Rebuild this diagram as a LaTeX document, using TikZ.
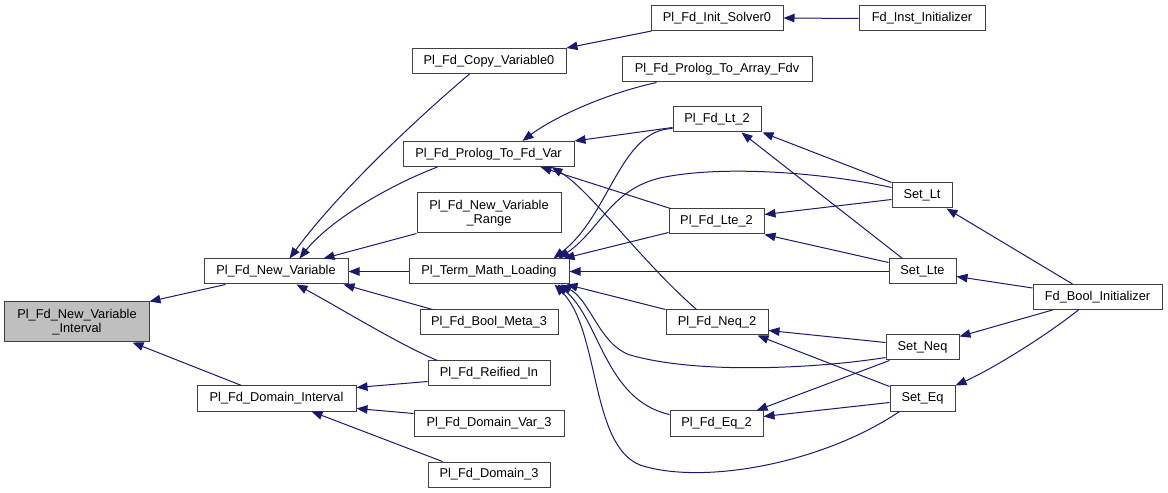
\documentclass[tikz,border=0pt]{standalone}
\usepackage{fontspec}
\setmainfont{Liberation Sans}
\usetikzlibrary{arrows.meta,calc}
\definecolor{edgecol}{HTML}{191970}
\definecolor{boxline}{HTML}{404040}
\definecolor{boxfill}{HTML}{BFBFBF}
\tikzset{
 fn/.style={draw=boxline, line width=1bp, fill=white, rectangle, inner sep=0pt,
   minimum height=25bp, font=\fontsize{12.8bp}{14.5bp}\selectfont, align=center},
 edge/.style={draw=edgecol, line width=1bp, {Triangle[length=11bp,width=8.5bp]}-},
}
\begin{document}
\begin{tikzpicture}[x=1bp,y=-1bp]
\useasboundingbox (0,0) rectangle (1168,493);
% column 1
\node[fn, minimum width=144bp, minimum height=40bp, fill=boxfill] (NVI) at (77,322) {Pl\_Fd\_New\_Variable\\\_Interval};
% column 2
\node[fn, minimum width=144bp] (NV) at (276,271.5) {Pl\_Fd\_New\_Variable};
\node[fn, minimum width=159bp] (DI) at (276.5,398.5) {Pl\_Fd\_Domain\_Interval};
% column 3
\node[fn, minimum width=154bp] (CV0) at (489,61) {Pl\_Fd\_Copy\_Variable0};
\node[fn, minimum width=171bp] (PTFV) at (488.5,154) {Pl\_Fd\_Prolog\_To\_Fd\_Var};
\node[fn, minimum width=144bp, minimum height=40bp] (NVR) at (489,213) {Pl\_Fd\_New\_Variable\\\_Range};
\node[fn, minimum width=160bp] (TML) at (489,271.5) {Pl\_Term\_Math\_Loading};
\node[fn, minimum width=138bp] (BM3) at (489,322.5) {Pl\_Fd\_Bool\_Meta\_3};
\node[fn, minimum width=122bp] (RI) at (489,373.5) {Pl\_Fd\_Reified\_In};
\node[fn, minimum width=150bp] (DV3) at (489,423.5) {Pl\_Fd\_Domain\_Var\_3};
\node[fn, minimum width=122bp] (D3) at (489,474.5) {Pl\_Fd\_Domain\_3};
% column 4
\node[fn, minimum width=132bp] (IS0) at (717,18) {Pl\_Fd\_Init\_Solver0};
\node[fn, minimum width=190bp] (PTAF) at (717,69.5) {Pl\_Fd\_Prolog\_To\_Array\_Fdv};
\node[fn, minimum width=88bp] (LT2) at (717,119.5) {Pl\_Fd\_Lt\_2};
\node[fn, minimum width=95bp] (LTE2) at (716.5,221.5) {Pl\_Fd\_Lte\_2};
\node[fn, minimum width=102bp] (NEQ2) at (717,322.5) {Pl\_Fd\_Neq\_2};
\node[fn, minimum width=93bp] (EQ2) at (716.5,423.5) {Pl\_Fd\_Eq\_2};
% column 5
\node[fn, minimum width=126bp] (FII) at (922,18.5) {Fd\_Inst\_Initializer};
\node[fn, minimum width=60bp] (SLT) at (922,195.5) {Set\_Lt};
\node[fn, minimum width=67bp] (SLTE) at (922.5,271.5) {Set\_Lte};
\node[fn, minimum width=73bp] (SNEQ) at (922.5,347.5) {Set\_Neq};
\node[fn, minimum width=65bp] (SEQ) at (922.5,398.5) {Set\_Eq};
% column 6
\node[fn, minimum width=129bp] (FBI) at (1097.5,297) {Fd\_Bool\_Initializer};

% edges (arrow tip at the called function)
\draw[edge] (NVI.north east) -- ($(NV.south west)+(22,0)$);
\draw[edge] ($(NVI.south east)+(-17,0)$) -- ($(DI.north west)+(45,0)$);
\draw[edge] ($(NV.north west)+(86,0)$) .. controls (340,190) and (420,116) .. ($(CV0.south west)+(58,0)$);
\draw[edge] ($(NV.north west)+(96,0)$) .. controls (330,220) and (390,185) .. ($(PTFV.south west)+(35,0)$);
\draw[edge] ($(NV.north east)+(-25,0)$) -- (NVR.south west);
\draw[edge] (NV.east) -- (TML.west);
\draw[edge] ($(NV.south east)+(-5,0)$) -- ($(BM3.north west)+(13,0)$);
\draw[edge] ($(NV.south west)+(93,0)$) .. controls (340,308) and (400,345) .. ($(RI.north west)+(10,0)$);
\draw[edge] ($(DI.north east)+(0,2)$) -- ($(RI.south west)+(0,-5)$);
\draw[edge] ($(DI.south east)+(0,-3)$) -- ($(DV3.north west)+(0,3)$);
\draw[edge] ($(DI.south west)+(115,0)$) -- ($(D3.north west)+(15,0)$);
\draw[edge] (CV0.north east) -- ($(IS0.south west)+(1,0)$);
\draw[edge] (IS0.east) -- (FII.west);
\draw[edge] ($(PTFV.north west)+(120,0)$) .. controls (550,120) and (600,95) .. ($(PTAF.south west)+(35,0)$);
\draw[edge] (PTFV.north east) -- ($(LT2.south west)+(0,-5)$);
\draw[edge] ($(PTFV.south east)+(-34,0)$) -- ($(LTE2.north west)+(2,0)$);
\draw[edge] ($(PTFV.south east)+(-23,0)$) .. controls (590,190) and (640,260) .. ($(NEQ2.north west)+(31,0)$);
\draw[edge] ($(TML.north east)+(-16,0)$) .. controls (610,215) and (620,130) .. ($(LT2.south west)+(0,-4)$);
\draw[edge] ($(TML.north east)+(-11,0)$) .. controls (600,230) and (610,190) .. (660,178)
   .. controls (720,165) and (820,172) .. ($(SLT.north west)+(0,5)$);
\draw[edge] ($(TML.north east)+(-6,0)$) -- ($(LTE2.south west)+(0,-2)$);
\draw[edge] (TML.east) -- (SLTE.west);
\draw[edge] ($(TML.south east)+(-3,0)$) -- (NEQ2.north west);
\draw[edge] ($(TML.south east)+(-9,0)$) .. controls (590,300) and (600,345) .. (630,355)
   .. controls (700,375) and (820,368) .. ($(SNEQ.south west)+(0,-3)$);
\draw[edge] ($(TML.south east)+(-12,0)$) .. controls (600,320) and (605,400) .. ($(EQ2.north west)+(0,4)$);
\draw[edge] ($(TML.south east)+(-15,0)$) .. controls (600,330) and (590,445) .. (640,465)
   .. controls (700,485) and (820,465) .. ($(SEQ.south west)+(10,0)$);
\draw[edge] ($(LT2.south east)+(1,0)$) -- (SLT.north west);
\draw[edge] ($(LT2.south east)+(-20,0)$) -- ($(SLTE.north west)+(14,0)$);
\draw[edge] ($(LTE2.north east)+(0,6)$) -- ($(SLT.south west)+(0,-9)$);
\draw[edge] (LTE2.south east) -- ($(SLTE.north west)+(0,4)$);
\draw[edge] ($(NEQ2.south east)+(0,-5)$) -- ($(SNEQ.north west)+(0,8)$);
\draw[edge] ($(NEQ2.south east)+(-11,0)$) -- ($(SEQ.north west)+(0,1)$);
\draw[edge] ($(EQ2.north east)+(-7,0)$) -- ($(SNEQ.south west)+(4,0)$);
\draw[edge] ($(EQ2.north east)+(0,6)$) -- ($(SEQ.north west)+(0,17)$);
\draw[edge] ($(SLT.south east)+(-6,0)$) -- ($(FBI.north west)+(40,0)$);
\draw[edge] ($(SLTE.north east)+(0,18)$) -- ($(FBI.north west)+(0,4)$);
\draw[edge] ($(SNEQ.north east)+(0,2)$) -- ($(FBI.south west)+(20,0)$);
\draw[edge] (SEQ.north east) .. controls (990,370) and (1040,340) .. ($(FBI.south west)+(46,0)$);
\end{tikzpicture}
\end{document}
